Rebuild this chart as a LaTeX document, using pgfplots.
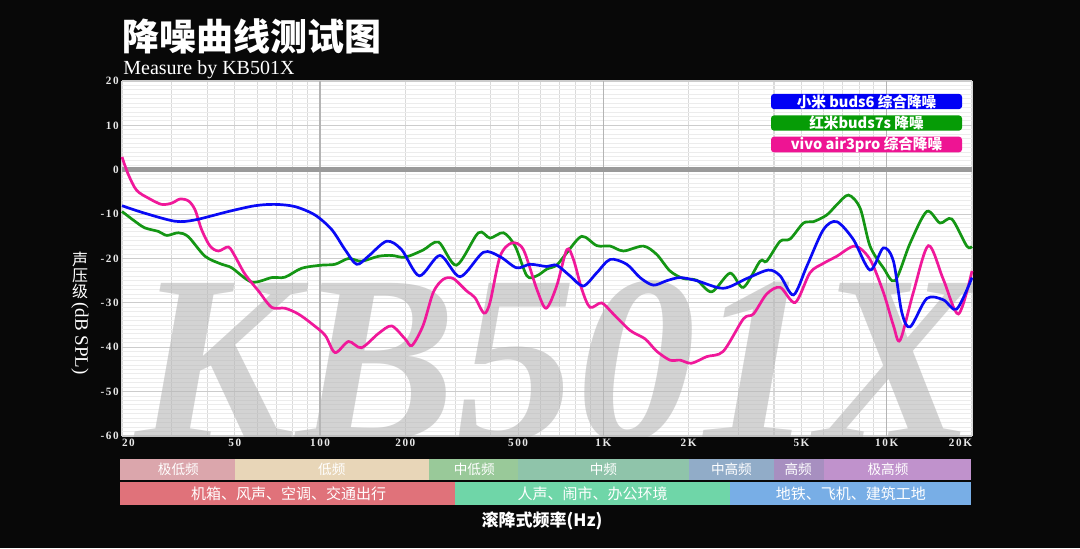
\documentclass[border=0pt]{standalone}
\usepackage{pgfplots}
\pgfplotsset{compat=1.18}
\usepackage{fontspec}
\setmainfont{Liberation Serif}
\newfontfamily\cjk{Noto Sans CJK SC}
\newfontfamily\tickfont{Liberation Serif}[LetterSpace=14]
\definecolor{bgc}{HTML}{080808}
\definecolor{wm}{HTML}{B8B8B8}
\definecolor{gridl}{HTML}{ECECEC}
\definecolor{gridm}{HTML}{CCCCCC}
\definecolor{gridv}{HTML}{DADADA}
\definecolor{gridd}{HTML}{B4B4B4}
\definecolor{zeroc}{HTML}{9A9A9A}
\definecolor{tickc}{HTML}{E8E8E8}
\definecolor{cblue}{HTML}{0A0AF5}
\definecolor{cgreen}{HTML}{149614}
\definecolor{cpink}{HTML}{F0189A}
\definecolor{lblue}{HTML}{0000F5}
\definecolor{lgreen}{HTML}{069C06}
\definecolor{lpink}{HTML}{EE1493}
\definecolor{ba}{HTML}{DBA6AC}
\definecolor{bb}{HTML}{E8D6B8}
\definecolor{bc}{HTML}{99C999}
\definecolor{bd}{HTML}{8FC4AA}
\definecolor{be}{HTML}{91ACC8}
\definecolor{bf}{HTML}{A78FC0}
\definecolor{bg}{HTML}{C092CC}
\definecolor{ra}{HTML}{E0727A}
\definecolor{rb}{HTML}{6FD6A8}
\definecolor{rc}{HTML}{78AEE6}
\begin{document}
\begin{tikzpicture}
\path[use as bounding box] (0,0) rectangle (540pt,-274pt);
\fill[bgc] (0,0) rectangle (540pt,-274pt);
\begin{scope}[x=0.5pt,y=-0.5pt]
  \fill[white] (122,81) rectangle (972,436);
  \node[anchor=base west, inner sep=0, text=white, font=\cjk\bfseries\fontsize{18.5}{18.5}\selectfont] at (122,50.5) {降噪曲线测试图};
  \node[anchor=base west, inner sep=0, text=white, font=\fontsize{10}{10}\selectfont] at (123,74) {Measure by KB501X};
  \node[anchor=north, inner sep=0, align=center, text=white, font=\cjk\fontsize{8}{8}\selectfont] at (80,252) {声\\压\\级};
  \node[rotate=-90, anchor=west, inner sep=0, text=white, font=\fontsize{9.5}{9.5}\selectfont] at (80,302) {(dB SPL)};
  \node[inner sep=0, text=white, font=\cjk\bfseries\fontsize{8.5}{8.5}\selectfont] at (542,521) {滚降式频率(Hz)};
\end{scope}
\begin{axis}[
  at={(61pt,-218pt)}, anchor=south west,
  scale only axis, width=425pt, height=177.5pt,
  xmode=log, xmin=20, xmax=20000, ymin=-60, ymax=20,
  clip=false,
  axis line style={draw=none},
  tick style={draw=none},
  xtick={20,50,200,500,2000,5000,20000},
  xticklabels={\rlap{20},50,200,500,2K,5K,\llap{20K}},
  extra x ticks={100,1000,10000},
  extra x tick labels={100,1K,10K},
  extra x tick style={xmajorgrids=true, major grid style={color=gridd, line width=0.6pt}},
  xmajorgrids=false,
  minor xtick={20,30,40,50,60,70,80,90,200,300,400,500,600,700,800,900,2000,3000,4000,5000,6000,7000,8000,9000,20000},
  xminorgrids=true,
  ytick={-60,-50,-40,-30,-20,-10,0,10,20},
  yticklabels={-60,-50,-40,-30,-20,-10,0,10,20},
  minor ytick={-59,-58,...,19},
  ymajorgrids=true, yminorgrids=true,
  minor x grid style={color=gridv, line width=0.55pt},
  minor y grid style={color=gridl, line width=0.5pt},
  major y grid style={color=gridm, line width=0.55pt},
  ticklabel style={font=\tickfont\bfseries\fontsize{5.6}{6.5}\selectfont, text=tickc},
  yticklabel style={inner sep=1.5pt},
  xticklabel style={inner sep=1.5pt},
]
\begin{scope}
  \clip (axis cs:20,-60) rectangle (axis cs:20000,20);
  \node[anchor=base, inner sep=0, text=wm, text opacity=0.62, font=\bfseries\itshape\fontsize{120}{120}\selectfont] at (axis cs:681,-61.1) {KB501X};
\end{scope}
\addplot[zeroc, line width=2.3pt] coordinates {(20,0) (20000,0)};

\addplot[cgreen, line width=1.35pt, smooth, tension=0.5] coordinates {
(20,-9.4) (22.2,-11.6) (24.1,-13.1) (26.9,-13.9) (28.8,-14.8) (31.6,-14.2) (34.3,-15.1) (39.3,-19.5) (45.0,-21.3) (48.8,-22.1) (57.4,-25.3) (67.5,-24.3) (75.2,-24.2) (86.1,-22.2) (101,-21.5) (113,-21.3) (126,-20.0) (140,-20.6) (160.7,-19.5) (179,-19.3) (199.5,-19.7) (231,-18.1) (262,-16.3) (303,-21.5) (362,-14.2) (398,-15.4) (444,-14.2) (488,-17.2) (537,-23.9) (582,-23.9) (631,-22.4) (684,-21.5) (743,-18.7) (839,-15.0) (948,-17.1) (1057,-17.2) (1177,-18.3) (1384,-17.2) (1543,-19.1) (1718,-22.8) (1915,-24.5) (2137,-24.9) (2414,-27.5) (2800,-23.3) (3120,-26.5) (3573,-20.6) (3770,-20.6) (4205,-16.1) (4560,-15.6) (5083,-12.0) (5509,-11.7) (6140,-10.2) (6661,-7.9) (7330,-5.7) (8060,-8.7) (8730,-17.2) (9730,-22.1) (10700,-25.0) (12100,-16.5) (13850,-9.4) (15420,-12.0) (16970,-11.1) (19170,-17.2) (20000,-17.3)};

\addplot[cpink, line width=1.35pt, smooth, tension=0.5] coordinates {
(20,2.9) (21.0,-0.9) (22.5,-4.6) (24.8,-6.4) (27.6,-7.8) (30,-7.5) (32.0,-6.6) (34.3,-7.0) (36.2,-9.0) (38.2,-13.5) (40.9,-17.2) (43.8,-18.3) (47.5,-17.4) (50.1,-19.5) (54.3,-23.5) (60.6,-27.3) (67.5,-31.0) (75.2,-31.2) (83.8,-32.5) (93.5,-34.7) (104.2,-37.3) (113,-41.2) (126,-38.7) (140,-40.1) (160.7,-36.9) (179,-35.2) (199.5,-38.1) (211,-39.6) (231,-35.1) (251,-27.6) (272,-24.7) (295,-24.5) (329,-27.3) (352,-28.8) (379,-32.3) (398,-29.9) (432,-19.5) (475,-16.5) (522,-18.0) (582,-26.9) (628,-31.2) (684,-26.2) (743,-18.0) (784,-20.2) (839,-26.9) (897,-31.0) (986,-30.0) (1084,-32.5) (1242,-36.2) (1403,-38.1) (1543,-40.9) (1718,-42.9) (1865,-42.9) (2045,-43.6) (2317,-42.1) (2650,-40.9) (3120,-33.6) (3385,-32.5) (3770,-28.0) (4205,-26.5) (4755,-29.9) (5361,-23.2) (5976,-21.1) (6661,-19.5) (7730,-17.2) (8730,-20.2) (9730,-27.6) (10560,-35.1) (11150,-38.4) (12420,-27.6) (14030,-17.1) (15840,-24.7) (17910,-32.5) (20000,-22.8)};

\addplot[cblue, line width=1.35pt, smooth, tension=0.5] coordinates {
(20,-8.1) (24.1,-9.8) (30.8,-11.6) (36.2,-11.3) (47.5,-9.4) (58.9,-8.1) (69.4,-7.8) (81.6,-8.3) (96,-10.2) (110,-13.5) (122.5,-18.0) (134.7,-21.3) (148,-19.5) (171.8,-16.1) (194,-18.0) (224,-23.9) (265,-19.3) (312,-24.1) (377,-18.6) (432,-19.6) (494,-22.1) (551,-21.3) (631,-21.8) (684,-21.5) (762,-23.9) (849,-26.2) (948,-23.2) (1057,-20.2) (1209,-21.3) (1347,-24.3) (1500,-26.0) (1673,-25.0) (1865,-24.3) (2137,-25.0) (2650,-26.7) (3207,-24.5) (3820,-22.6) (4205,-23.9) (4688,-28.2) (5226,-21.7) (5976,-13.5) (6661,-11.7) (7623,-15.7) (8730,-22.6) (9730,-17.6) (10560,-20.6) (11300,-32.1) (12100,-35.4) (13850,-29.0) (15840,-29.3) (17660,-31.4) (20000,-24.3)};

% frequency bands
\fill[ba] (axis cs:19.7,-65.2) rectangle (axis cs:50,-69.9);
\fill[bb] (axis cs:50,-65.2) rectangle (axis cs:242,-69.9);
\fill[bc] (axis cs:242,-65.2) rectangle (axis cs:500,-69.9);
\fill[bd] (axis cs:500,-65.2) rectangle (axis cs:2000,-69.9);
\fill[be] (axis cs:2000,-65.2) rectangle (axis cs:4000,-69.9);
\fill[bf] (axis cs:4000,-65.2) rectangle (axis cs:6000,-69.9);
\fill[bg] (axis cs:6000,-65.2) rectangle (axis cs:19800,-69.9);
\fill[ra] (axis cs:19.7,-70.4) rectangle (axis cs:300,-75.5);
\fill[rb] (axis cs:300,-70.4) rectangle (axis cs:2800,-75.5);
\fill[rc] (axis cs:2800,-70.4) rectangle (axis cs:19800,-75.5);
\begin{scope}[every node/.style={text=white, inner sep=0, font=\cjk\fontsize{6.8}{6.8}\selectfont}]
\node at (axis cs:31.6,-67.55) {极低频};
\node at (axis cs:110,-67.55) {低频};
\node at (axis cs:350,-67.55) {中低频};
\node at (axis cs:1000,-67.55) {中频};
\node at (axis cs:2830,-67.55) {中高频};
\node at (axis cs:4870,-67.55) {高频};
\node at (axis cs:10100,-67.55) {极高频};
\end{scope}
\begin{scope}[every node/.style={text=white, inner sep=0, font=\cjk\fontsize{7.5}{7.5}\selectfont}]
\node at (axis cs:77.5,-72.96) {机箱、风声、空调、交通出行};
\node at (axis cs:917,-72.96) {人声、闹市、办公环境};
\node at (axis cs:7480,-72.96) {地铁、飞机、建筑工地};
\end{scope}
\end{axis}
\begin{scope}[x=0.5pt,y=-0.5pt]
  \begin{scope}[every node/.style={rounded corners=1.5pt, minimum width=95.5pt, minimum height=7.6pt, inner sep=0, text=white, font=\cjk\bfseries\fontsize{7.3}{7.3}\selectfont}]
    \node[fill=lblue] at (866.5,101.5) {小米 buds6 综合降噪};
    \node[fill=lgreen] at (866.5,123) {红米buds7s 降噪};
    \node[fill=lpink] at (866.5,144.5) {vivo air3pro 综合降噪};
  \end{scope}
\end{scope}
\end{tikzpicture}
\end{document}
